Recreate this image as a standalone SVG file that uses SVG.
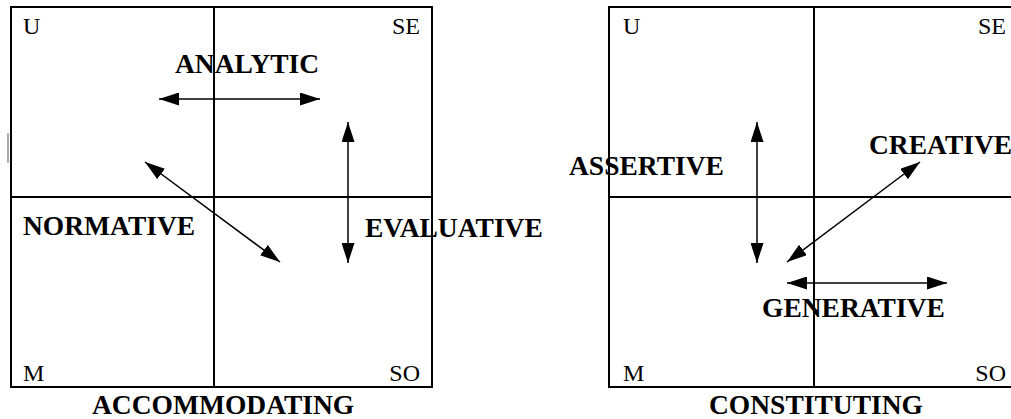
<svg xmlns="http://www.w3.org/2000/svg" width="1011" height="419" viewBox="0 0 1011 419">
<style>
.frame{fill:none;stroke:#000;stroke-width:2}
.div{stroke:#000;stroke-width:2}
.conn{stroke:#000;stroke-width:1.5;fill:none}
.corner{font-family:"Liberation Serif",serif;font-size:24px;fill:#000}
.lbl{font-family:"Liberation Serif",serif;font-size:27.5px;font-weight:bold;fill:#000}
</style>
<defs>
<marker id="ah" viewBox="0 0 20 13" refX="20" refY="6.5" markerWidth="20" markerHeight="13" markerUnits="userSpaceOnUse" orient="auto-start-reverse">
<path d="M0,0 L20,6.5 L0,13 z" fill="#000"/>
</marker>
</defs>
<rect width="1011" height="419" fill="#fff"/>
<g id="panel-accommodating">
<rect class="frame" x="11" y="7" width="421" height="380"/>
<line class="div" x1="214" y1="7" x2="214" y2="387"/>
<line class="div" x1="11" y1="197" x2="432" y2="197"/>
<text class="corner" x="23" y="34">U</text>
<text class="corner" x="420" y="34" text-anchor="end">SE</text>
<text class="corner" x="23" y="381">M</text>
<text class="corner" x="420" y="381" text-anchor="end">SO</text>
<line x1="8" y1="133" x2="8" y2="163" stroke="#555" stroke-width="1"/>
</g>
<g id="panel-constituting">
<rect class="frame" x="609" y="7" width="411" height="380"/>
<line class="div" x1="814" y1="7" x2="814" y2="387"/>
<line class="div" x1="609" y1="197" x2="1020" y2="197"/>
<text class="corner" x="623" y="34">U</text>
<text class="corner" x="1006" y="34" text-anchor="end">SE</text>
<text class="corner" x="623" y="381">M</text>
<text class="corner" x="1006" y="381" text-anchor="end">SO</text>
</g>
<g id="connectors">
<line class="conn" x1="159" y1="99" x2="320" y2="99" marker-start="url(#ah)" marker-end="url(#ah)"/>
<line class="conn" x1="348" y1="122" x2="348" y2="263" marker-start="url(#ah)" marker-end="url(#ah)"/>
<line class="conn" x1="145" y1="162" x2="280" y2="262" marker-start="url(#ah)" marker-end="url(#ah)"/>
<line class="conn" x1="757" y1="122" x2="757" y2="263" marker-start="url(#ah)" marker-end="url(#ah)"/>
<line class="conn" x1="787" y1="262" x2="920" y2="162" marker-start="url(#ah)" marker-end="url(#ah)"/>
<line class="conn" x1="787" y1="283" x2="947" y2="283" marker-start="url(#ah)" marker-end="url(#ah)"/>
</g>
<g id="analytic"><text class="lbl" x="175" y="73">ANALYTIC</text></g>
<g id="normative"><text class="lbl" x="23" y="235">NORMATIVE</text></g>
<g id="evaluative"><text class="lbl" x="365" y="237">EVALUATIVE</text></g>
<g id="accommodating"><text class="lbl" x="92" y="414">ACCOMMODATING</text></g>
<g id="assertive"><text class="lbl" x="569" y="175">ASSERTIVE</text></g>
<g id="creative"><text class="lbl" x="869" y="154">CREATIVE</text></g>
<g id="generative"><text class="lbl" x="762" y="317">GENERATIVE</text></g>
<g id="constituting"><text class="lbl" x="709" y="414">CONSTITUTING</text></g>
</svg>
